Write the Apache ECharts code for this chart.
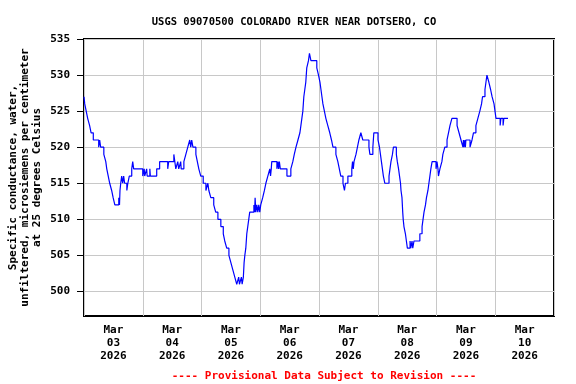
<!DOCTYPE html>
<html>
<head>
<meta charset="utf-8">
<script src="https://cdn.jsdelivr.net/npm/echarts@6/dist/echarts.min.js"></script>
<style>html,body{margin:0;padding:0;background:#fff}#c{width:576px;height:384px}</style>
</head>
<body>
<div id="c"></div>
<script>
// Hours since Mar 03 2026 00:00 (start of each level)
var hours = [0,0.3,0.9,1.5,2.3,2.9,3.8,6.0,6.4,6.8,8.1,8.9,9.3,9.9,10.5,11.3,11.9,12.6,14.2,14.5,14.7,15.0,15.4,15.8,16.2,16.6,17.5,17.9,18.5,19.5,19.9,20.3,24.0,24.6,24.8,25.6,25.8,26.9,27.1,29.7,30.9,34.2,34.6,36.7,37.1,37.5,38.3,38.7,39.5,39.7,40.8,41.6,42.4,43.2,43.6,44.0,44.5,45.7,46.3,46.9,47.7,48.7,49.8,50.6,51.0,51.8,53.0,53.8,54.7,55.9,56.9,57.5,58.3,59.2,60.0,60.8,61.6,62.4,63.2,63.5,64.3,64.6,65.1,65.4,65.7,66.1,66.5,66.9,67.3,67.7,69.4,69.7,69.9,70.2,70.6,71.0,71.4,71.8,72.2,73.0,73.7,74.3,75.1,75.9,76.2,76.5,76.7,78.8,79.2,79.5,79.8,80.2,82.9,84.5,85.3,85.9,86.6,87.4,88.2,88.6,89.0,89.4,89.8,90.2,90.6,91.0,91.7,92.1,92.7,95.1,95.8,96.4,96.8,97.2,97.6,98.2,98.8,99.6,100.4,101.1,101.7,102.9,103.7,104.3,104.9,105.8,106.4,106.8,107.8,109.4,109.7,110.0,110.3,111.1,111.7,112.3,113.1,113.9,116.4,116.8,118.0,118.4,120.1,120.7,121.1,121.5,121.9,122.3,122.9,124.6,125.0,125.4,126.0,126.4,127.6,128.0,128.5,128.9,129.3,129.5,129.9,130.2,130.4,130.7,131.3,131.7,132.1,133.2,133.5,134.0,134.3,134.8,137.2,138.1,138.5,138.9,139.5,139.9,140.5,140.9,141.3,141.7,142.2,143.8,144.2,144.6,144.8,145.4,146.2,146.6,147.4,148.3,148.9,149.5,150.3,152.4,153.2,154.0,154.8,155.0,155.2,155.6,155.8,156.0,157.7,158.5,159.1,160.1,160.9,161.7,162.4,162.8,163.8,164.2,164.6,165.4,166.1,166.7,167.5,167.9,168.3,170.0,170.3,171.2,171.5,173.2];
var conductance = [527,526,525,524,523,522,521,520,521,520,519,518,517,516,515,514,513,512,513,512,514,515,516,515,516,515,514,515,516,517,518,517,516,517,516,517,516,517,516,517,518,517,518,519,518,517,518,517,518,517,518,519,520,521,520,521,520,519,518,517,516,515,514,515,514,513,512,511,510,509,508,507,506,505,504,503,502,501,502,501,502,501,502,504,505,506,508,509,510,511,512,511,513,511,512,511,512,511,512,513,514,515,516,517,516,517,518,517,518,517,518,517,516,517,518,519,520,521,522,523,524,525,527,528,529,531,532,533,532,531,530,529,528,527,526,525,524,523,522,521,520,519,518,517,516,515,514,515,516,517,518,517,518,519,520,521,522,521,520,519,520,522,521,520,519,518,517,516,515,516,517,518,519,520,519,518,517,516,515,514,513,511,510,509,508,507,506,507,506,507,506,507,508,509,510,511,512,513,514,515,516,517,518,517,518,517,516,517,518,519,520,521,522,523,524,523,522,521,520,521,520,521,520,521,520,521,522,523,524,525,526,527,528,529,530,529,528,527,526,525,524,523,524,523,524,524];
var yTicks = [500,505,510,515,520,525,530,535];
var xLabelPos = [12,36,60,84,108,132,156,180];
var xLabels = ['Mar\n03\n2026','Mar\n04\n2026','Mar\n05\n2026','Mar\n06\n2026','Mar\n07\n2026','Mar\n08\n2026','Mar\n09\n2026','Mar\n10\n2026'];
var titleText = 'USGS 09070500 COLORADO RIVER NEAR DOTSERO, CO';
var yName = 'Specific conductance, water,\nunfiltered, microsiemens per centimeter\nat 25 degrees Celsius';
var footer = '---- Provisional Data Subject to Revision ----';

var FONT = 'DejaVu Sans Mono';
var data = hours.map(function (h, i) { return [h, conductance[i]]; });

var chart = echarts.init(document.getElementById('c'), null, {renderer: 'canvas'});
chart.setOption({
  animation: false,
  backgroundColor: '#ffffff',
  title: [
    {text: titleText, left: 289, top: 12, textAlign: 'center',
     textStyle: {fontFamily: FONT, fontSize: 10.5, fontWeight: 'bold', color: '#000'}},
    {text: footer, left: 319, top: 366, textAlign: 'center',
     textStyle: {fontFamily: FONT, fontSize: 11, fontWeight: 'bold', color: '#ff0000'}}
  ],
  grid: {left: 84, right: 22, top: 39, bottom: 68, show: true, borderColor: '#000', borderWidth: 2, backgroundColor: '#fff', outerBoundsMode: 'none', containLabel: false},
  xAxis: {
    type: 'value', min: 0, max: 192, interval: 24,
    axisLine: {show: false},
    axisTick: {show: false},
    splitLine: {show: true, lineStyle: {color: '#c8c8c8', width: 1}},
    axisLabel: {
      customValues: xLabelPos,
      margin: 8,
      lineHeight: 13,
      fontFamily: FONT, fontSize: 11, fontWeight: 'bold', color: '#000',
      formatter: function (v) { var i = xLabelPos.indexOf(v); return i >= 0 ? xLabels[i] : ''; }
    }
  },
  yAxis: {
    type: 'value', min: 496.6, max: 535,
    name: yName, nameLocation: 'middle', nameGap: 41, nameRotate: 90, nameMoveOverlap: false,
    nameTextStyle: {fontFamily: FONT, fontSize: 11, fontWeight: 'bold', color: '#000', lineHeight: 12},
    axisLine: {show: false},
    axisTick: {show: true, inside: false, length: 7, customValues: yTicks, lineStyle: {color: '#000', width: 1}},
    splitLine: {show: true, lineStyle: {color: '#c8c8c8', width: 1}},
    axisLabel: {customValues: yTicks, margin: 14, fontFamily: FONT, fontSize: 11, fontWeight: 'bold', color: '#000'}
  },
  series: [{
    type: 'line', step: 'end', data: data, showSymbol: false, symbol: 'none',
    lineStyle: {color: '#0000ff', width: 1.2}, clip: true
  }]
});
</script>
</body>
</html>
